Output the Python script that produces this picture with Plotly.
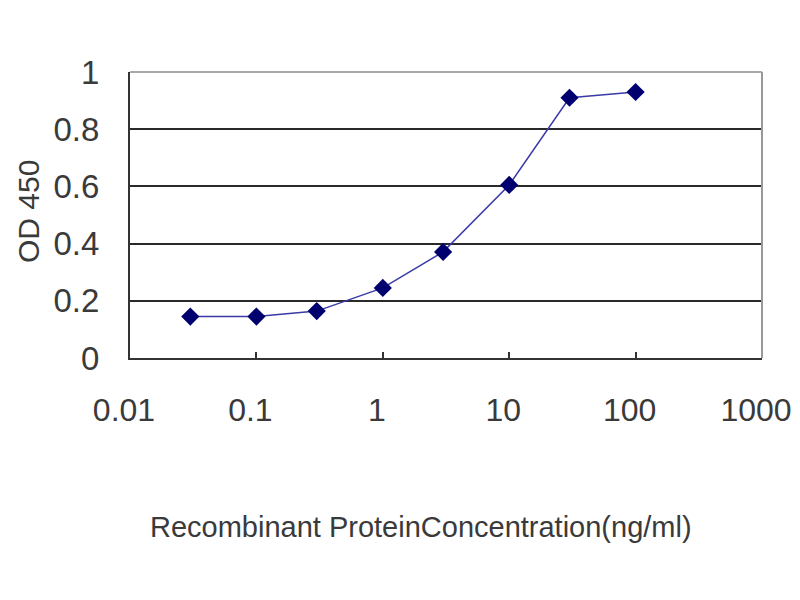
import plotly.graph_objects as go

concentration = [0.03, 0.1, 0.3, 1, 3, 10, 30, 100]
od450 = [0.145, 0.145, 0.164, 0.245, 0.371, 0.605, 0.91, 0.93]

x_tickvals = [0.01, 0.1, 1, 10, 100, 1000]
x_ticktext = ["0.01", "0.1", "1", "10", "100", "1000"]
y_tickvals = [0, 0.2, 0.4, 0.6, 0.8, 1]
y_ticktext = ["0", "0.2", "0.4", "0.6", "0.8", "1"]

x_title = "Recombinant ProteinConcentration(ng/ml)"
y_title = "OD 450"

FONT = "Liberation Sans, Arial, sans-serif"
TXT = "#3a3a3a"

fig = go.Figure()
fig.add_trace(go.Scatter(
    x=concentration, y=od450, mode="lines+markers",
    line=dict(color="#3a3aa8", width=1.5),
    marker=dict(symbol="diamond", size=14, color="#00006e",
                line=dict(color="#00006e", width=0)),
    showlegend=False,
))

L, R, T, B = 122, 46, 64, 250
W, H = 800, 600
pw, ph = W - L - R, H - T - B

fig.update_layout(
    width=W, height=H,
    margin=dict(l=L, r=R, t=T, b=B, autoexpand=False),
    paper_bgcolor="white", plot_bgcolor="white",
    font=dict(family=FONT, color=TXT),
    xaxis=dict(
        type="log", range=[-2, 3], automargin=False,
        tickvals=x_tickvals, ticktext=x_ticktext,
        showgrid=False, zeroline=False,
        showline=True, linecolor="#333333", linewidth=2,
        ticks="inside", ticklen=6, tickcolor="#333333", tickwidth=1.5,
        tickfont=dict(size=32, family=FONT, color=TXT),
        ticklabelstandoff=23,
        ticklabelshift=-6,
    ),
    yaxis=dict(
        range=[0, 1], automargin=False,
        tickvals=y_tickvals, ticktext=y_ticktext,
        showgrid=True, gridcolor="#2a2a2a", gridwidth=2,
        zeroline=False,
        showline=True, linecolor="#333333", linewidth=2,
        ticks="",
        tickfont=dict(size=33, family=FONT, color=TXT),
        ticklabelstandoff=22,
    ),
    shapes=[
        dict(type="line", xref="paper", yref="paper", x0=0, x1=1, y0=1, y1=1,
             line=dict(color="#aaaaaa", width=2), layer="above"),
        dict(type="line", xref="paper", yref="paper", x0=1, x1=1, y0=0, y1=1,
             line=dict(color="#999999", width=2), layer="above"),
    ],
    annotations=[
        dict(text=x_title, xref="paper", yref="paper",
             x=(413 - L) / pw, y=(H - B - 519) / ph,
             xanchor="center", yanchor="middle", showarrow=False,
             font=dict(size=29, family=FONT, color=TXT)),
        dict(text=y_title, xref="paper", yref="paper", textangle=-90,
             x=(20 - L) / pw, y=(H - B - 204) / ph,
             xanchor="center", yanchor="middle", showarrow=False,
             borderpad=0,
             font=dict(size=30, family=FONT, color=TXT)),
    ],
)

fig.write_html("out.html")
